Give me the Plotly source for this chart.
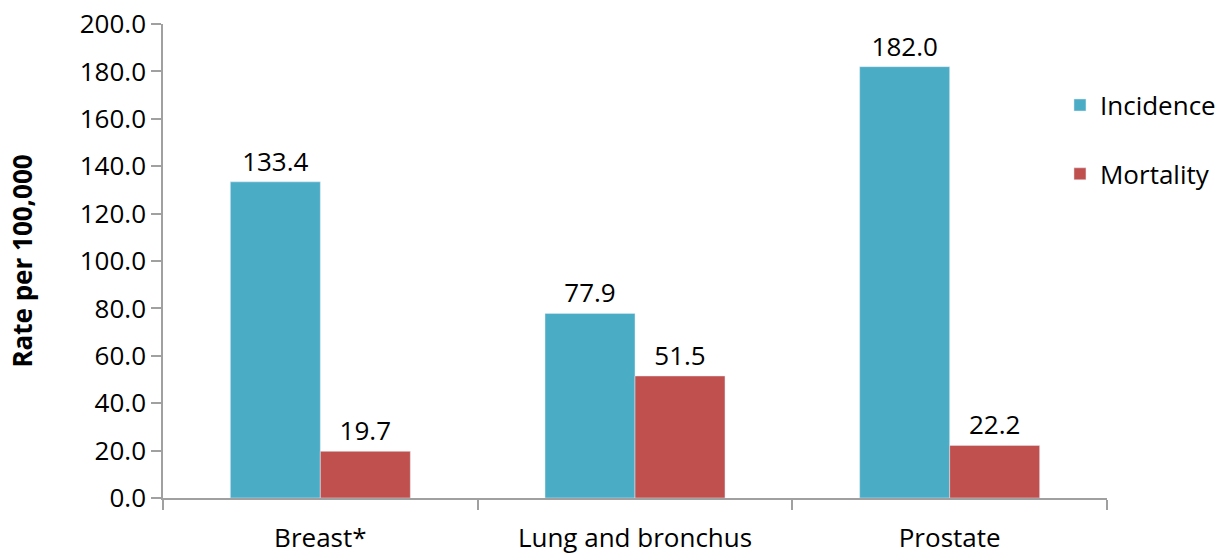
import plotly.graph_objects as go

categories = ["Breast*", "Lung and bronchus", "Prostate"]
incidence = [133.4, 77.9, 182.0]
mortality = [19.7, 51.5, 22.2]
y_ticks = [0, 20, 40, 60, 80, 100, 120, 140, 160, 180, 200]

FONT = "Open Sans"
FS = 26
fig = go.Figure()
fig.add_trace(go.Bar(
    name="Incidence", x=categories, y=incidence, marker_color="#4BACC6",
    text=[f"{v:.1f}" for v in incidence], textposition="outside",
    textfont=dict(size=FS, color="#000000"), cliponaxis=False, legendgroup="a",
))
fig.add_trace(go.Bar(
    name="Mortality", x=categories, y=mortality, marker_color="#C0504D",
    text=[f"{v:.1f}" for v in mortality], textposition="outside",
    textfont=dict(size=FS, color="#000000"), cliponaxis=False, legendgroup="b",
))
fig.update_layout(
    width=1223, height=555,
    margin=dict(l=163, r=116, t=24, b=57, autoexpand=False),
    paper_bgcolor="white", plot_bgcolor="white",
    font=dict(family=FONT, size=FS, color="#000000"),
    barmode="group", bargap=0.428, bargroupgap=0,
    showlegend=True,
    legend=dict(xref="container", yref="container", x=0.8667, y=0.853,
                xanchor="left", yanchor="top",
                font=dict(size=FS), traceorder="grouped", tracegroupgap=32,
                bgcolor="rgba(0,0,0,0)"),
    xaxis=dict(showline=True, linecolor="#A0A0A0", linewidth=1.5,
               ticks="outside", tickson="boundaries", ticklen=10,
               tickcolor="#A0A0A0", tickwidth=1.5, automargin=False,
               ticklabelstandoff=16,
               tickfont=dict(size=FS), showgrid=False),
    yaxis=dict(range=[0, 200], tickvals=y_ticks, tickformat=".1f",
               showline=True, linecolor="#A0A0A0", linewidth=1.5,
               ticks="outside", ticklen=10, tickcolor="#A0A0A0", tickwidth=1.5,
               showgrid=False, zeroline=False, tickfont=dict(size=FS),
               ticklabeloverflow="allow", automargin=False,
               title=dict(text="<b>Rate per 100,000</b>", font=dict(size=FS), standoff=40)),
)
fig.write_html("out.html", post_script="document.body.style.margin='0';",
               config={"displayModeBar": False})
